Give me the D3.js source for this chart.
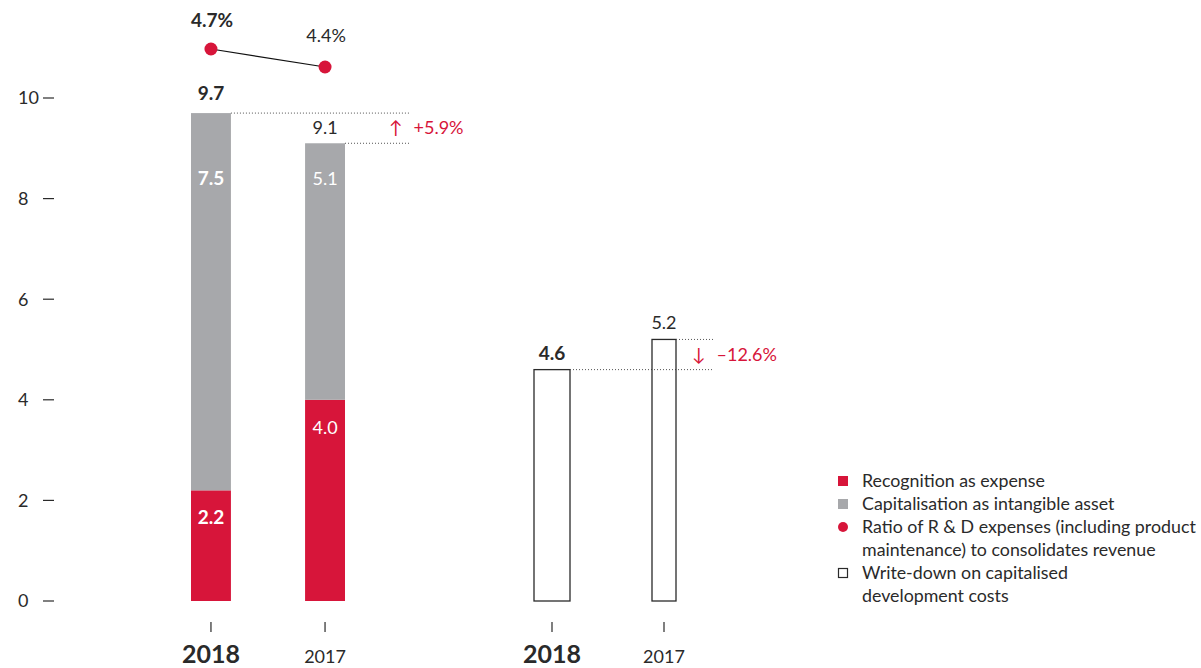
<!DOCTYPE html>
<html>
<head>
<meta charset="utf-8">
<script src="https://cdn.jsdelivr.net/npm/d3@7"></script>
<style>
  body { margin: 0; background: #fff; }
  text { font-family: Lato, "Noto Sans", sans-serif; fill: #2a2a2a; }
</style>
</head>
<body>
<script>
// data
let years = ["2018", "2017"]
let expense = [2.2, 4.0]
let capitalised = [7.5, 5.1]
let ratio = [4.7, 4.4]
let writedown = [4.6, 5.2]
let rdChange = "+5.9%"
let wdChange = "\u2013" + "12.6%"
let yTicks = [0, 2, 4, 6, 8, 10]
let legendItems = [
  {type: "red", lines: ["Recognition as expense"]},
  {type: "grey", lines: ["Capitalisation as intangible asset"]},
  {type: "dot", lines: ["Ratio of R & D expenses (including product", "maintenance) to consolidates revenue"]},
  {type: "open", lines: ["Write-down on capitalised", "development costs"]}
]

let red = "#d7153a", grey = "#a7a8ab", dark = "#2a2a2a"

let svg = d3.select("body")
  .append("svg")
    .attr("width", 1201)
    .attr("height", 668)

let y = d3.scaleLinear().domain([0, 10]).range([601, 98])
let ratioY = d3.scaleLinear().domain([4.4, 4.7]).range([67, 49])

let x1 = d3.scaleBand().domain(years).range([191, 345]).paddingInner(0.65).paddingOuter(0)
let x2 = d3.scalePoint().domain(years).range([552, 664])
let w2 = [36, 24]

// y axis
let yAxis = svg.append("g").attr("id", "yaxis")
yTicks.forEach(t => {
  yAxis.append("text")
    .attr("x", 18).attr("y", y(t)).attr("dy", "0.35em")
    .attr("font-size", 18)
    .text(t)
  yAxis.append("line")
    .attr("x1", 43).attr("x2", 54)
    .attr("y1", y(t)).attr("y2", y(t))
    .attr("stroke", dark).attr("stroke-width", 1.2)
})

// stacked bars
let g1 = svg.append("g").attr("id", "rd")
years.forEach((yr, i) => {
  let bx = x1(yr), bw = x1.bandwidth(), cx = bx + bw / 2
  let total = expense[i] + capitalised[i]
  let bold = i == 0 ? "bold" : "normal"
  let fs = i == 0 ? 19 : 18
  g1.append("rect")
    .attr("x", bx).attr("width", bw)
    .attr("y", y(expense[i])).attr("height", y(0) - y(expense[i]))
    .attr("fill", red)
  g1.append("rect")
    .attr("x", bx).attr("width", bw)
    .attr("y", y(total)).attr("height", y(expense[i]) - y(total))
    .attr("fill", grey)
  g1.append("text")
    .attr("x", cx).attr("y", y(expense[i]) + 34)
    .attr("text-anchor", "middle").attr("font-size", fs).attr("font-weight", bold)
    .style("fill", "#fff")
    .text(expense[i].toFixed(1))
  g1.append("text")
    .attr("x", cx).attr("y", y(8.4)).attr("dy", "0.35em")
    .attr("text-anchor", "middle").attr("font-size", fs).attr("font-weight", bold)
    .style("fill", "#fff")
    .text(capitalised[i].toFixed(1))
  g1.append("text")
    .attr("x", cx).attr("y", y(total) - (i == 0 ? 13 : 9))
    .attr("text-anchor", "middle").attr("font-size", fs).attr("font-weight", bold)
    .text(total.toFixed(1))
  g1.append("line")
    .attr("x1", bx + bw).attr("x2", 410)
    .attr("y1", y(total)).attr("y2", y(total))
    .attr("stroke", "#555").attr("stroke-dasharray", "1,2")
  // ticks and year labels
  g1.append("line")
    .attr("x1", cx).attr("x2", cx).attr("y1", 622).attr("y2", 632)
    .attr("stroke", dark).attr("stroke-width", 1.2)
  g1.append("text")
    .attr("x", cx).attr("y", 663)
    .attr("text-anchor", "middle")
    .attr("font-size", i == 0 ? 25 : 18).attr("font-weight", bold)
    .text(yr)
})

// change annotations
function change(x, yv, arrow, label) {
  let t = svg.append("text")
    .attr("x", x).attr("y", y(yv)).attr("dy", "0.35em")
    .attr("font-size", 18).style("fill", red)
  t.append("tspan").text(arrow)
  t.append("tspan").attr("dx", 11).text(label)
}
change(389, (expense[0] + capitalised[0] + expense[1] + capitalised[1]) / 2, "\u2191", rdChange)
change(692, (writedown[0] + writedown[1]) / 2, "\u2193", wdChange)

// ratio line
let line = d3.line()
  .x((d, i) => x1(years[i]) + x1.bandwidth() / 2)
  .y(d => ratioY(d))
svg.append("path")
  .attr("d", line(ratio))
  .attr("fill", "none").attr("stroke", "#111").attr("stroke-width", 1.2)
ratio.forEach((r, i) => {
  let cx = x1(years[i]) + x1.bandwidth() / 2
  svg.append("circle")
    .attr("cx", cx).attr("cy", ratioY(r)).attr("r", 6.5)
    .attr("fill", red)
  svg.append("text")
    .attr("x", cx + 1).attr("y", ratioY(r) - (i == 0 ? 22 : 25))
    .attr("text-anchor", "middle").attr("font-size", i == 0 ? 19 : 18)
    .attr("font-weight", i == 0 ? "bold" : "normal")
    .text(r.toFixed(1) + "%")
})

// write-down bars
let g2 = svg.append("g").attr("id", "writedown")
years.forEach((yr, i) => {
  let cx = x2(yr), bw = w2[i], bx = cx - bw / 2
  let bold = i == 0 ? "bold" : "normal"
  g2.append("rect")
    .attr("x", bx).attr("width", bw)
    .attr("y", y(writedown[i])).attr("height", y(0) - y(writedown[i]))
    .attr("fill", "none").attr("stroke", dark).attr("stroke-width", 1.3)
  g2.append("text")
    .attr("x", cx).attr("y", y(writedown[i]) - 10)
    .attr("text-anchor", "middle").attr("font-size", i == 0 ? 19 : 18).attr("font-weight", bold)
    .text(writedown[i].toFixed(1))
  g2.append("line")
    .attr("x1", bx + bw).attr("x2", 713)
    .attr("y1", y(writedown[i])).attr("y2", y(writedown[i]))
    .attr("stroke", "#555").attr("stroke-dasharray", "1,2")
  g2.append("line")
    .attr("x1", cx).attr("x2", cx).attr("y1", 622).attr("y2", 632)
    .attr("stroke", dark).attr("stroke-width", 1.2)
  g2.append("text")
    .attr("x", cx).attr("y", 663)
    .attr("text-anchor", "middle")
    .attr("font-size", i == 0 ? 25 : 18).attr("font-weight", bold)
    .text(yr)
})

// legend
let lg = svg.append("g").attr("id", "legend").attr("transform", "translate(838, 481)")
let row = 0
legendItems.forEach(item => {
  let ly = row * 23
  if (item.type == "red" || item.type == "grey") {
    lg.append("rect").attr("x", 0).attr("y", ly - 5).attr("width", 10).attr("height", 10)
      .attr("fill", item.type == "red" ? red : grey)
  } else if (item.type == "dot") {
    lg.append("circle").attr("cx", 5).attr("cy", ly).attr("r", 5).attr("fill", red)
  } else {
    lg.append("rect").attr("x", 0.5).attr("y", ly - 4.5).attr("width", 9).attr("height", 9)
      .attr("fill", "none").attr("stroke", dark).attr("stroke-width", 1.2)
  }
  item.lines.forEach(t => {
    lg.append("text")
      .attr("x", 24).attr("y", row * 23).attr("dy", "0.35em")
      .attr("font-size", 17.8)
      .text(t)
    row++
  })
})
</script>
</body>
</html>
